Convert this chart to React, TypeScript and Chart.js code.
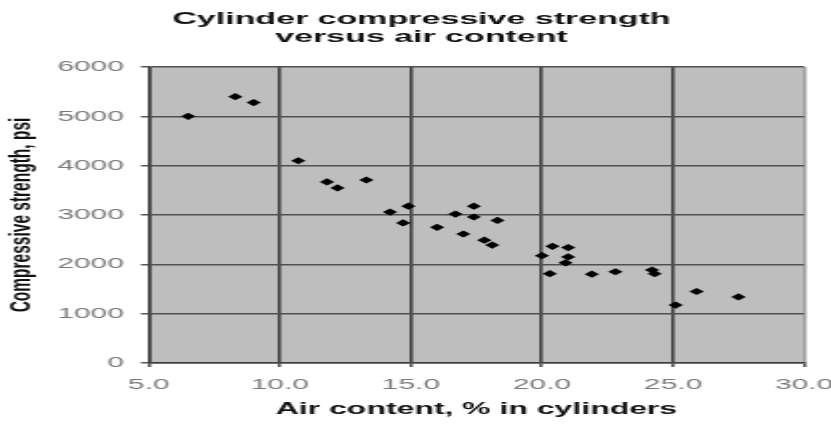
import React, { useEffect, useRef } from 'react';
import { Chart, registerables } from 'chart.js';

Chart.register(...registerables);

const chartTitle = ['Cylinder compressive strength', 'versus air content'];
const xAxisTitle = 'Air content, % in cylinders';
const yAxisTitle = 'Compressive strength, psi';

const airContent = [6.5, 8.3, 9.0, 10.7, 11.8, 12.2, 13.3, 14.2, 14.9, 14.7, 16.0, 16.7, 17.4, 17.4, 17.0, 18.3, 17.8, 18.1, 20.0, 20.4, 21.0, 21.0, 20.9, 20.3, 21.9, 22.8, 24.2, 24.3, 25.1, 25.9, 27.5];
const strength = [5000, 5400, 5280, 4100, 3670, 3550, 3710, 3060, 3180, 2840, 2750, 3020, 3180, 2960, 2615, 2890, 2490, 2390, 2175, 2365, 2340, 2150, 2030, 1810, 1800, 1850, 1885, 1810, 1175, 1450, 1340];

const xTicks = [5, 10, 15, 20, 25, 30];
const yTicks = [0, 1000, 2000, 3000, 4000, 5000, 6000];

const FONT = "'Liberation Sans', Arial, sans-serif";

const plotBackground = {
  id: 'plotBackground',
  beforeDraw(chart: any) {
    const { ctx, chartArea } = chart;
    if (!chartArea) return;
    ctx.save();
    ctx.fillStyle = '#bebebe';
    ctx.fillRect(chartArea.left, chartArea.top, chartArea.right - chartArea.left, chartArea.bottom - chartArea.top);
    ctx.restore();
  },
};

export default function App() {
  const ref = useRef<HTMLCanvasElement | null>(null);

  useEffect(() => {
    if (!ref.current) return;
    const data = airContent.map((x, i) => ({ x, y: strength[i] }));
    const chart = new Chart(ref.current, {
      type: 'scatter',
      data: {
        datasets: [
          {
            data,
            pointStyle: 'rectRot',
            pointRadius: 3.6,
            pointHoverRadius: 3.6,
            backgroundColor: '#000',
            borderColor: '#000',
            borderWidth: 0,
          },
        ],
      },
      options: {
        responsive: false,
        animation: false,
        devicePixelRatio: 1,
        layout: { padding: { left: 6, right: 0, top: 0, bottom: 0 } },
        plugins: {
          legend: { display: false },
          tooltip: { enabled: false },
          title: {
            display: true,
            text: chartTitle,
            color: '#111',
            font: { family: FONT, size: 17, weight: 'bold', lineHeight: 1.06 },
            padding: { top: 10, bottom: 21 },
          },
        },
        scales: {
          x: {
            type: 'linear',
            min: 5,
            max: 30,
            afterBuildTicks: (s: any) => {
              s.ticks = xTicks.map((v) => ({ value: v }));
            },
            afterFit: (s: any) => {
              s.height = 61;
              s.paddingLeft = 0;
              s.paddingRight = 0;
            },
            grid: {
              color: (c: any) => (c.tick && c.tick.value === 30 ? '#9a9a9a' : '#404040'),
              lineWidth: 1.6,
              drawTicks: true,
              tickLength: 4,
              tickColor: '#555',
            },
            border: { display: true, color: '#404040', width: 1.6 },
            ticks: {
              color: '#7a7a7a',
              font: { family: FONT, size: 15 },
              padding: 9,
              maxRotation: 0,
              autoSkip: false,
              callback: (v: any) => Number(v).toFixed(1),
            },
            title: {
              display: true,
              text: xAxisTitle,
              color: '#111',
              font: { family: FONT, size: 16, weight: 'bold' },
              padding: { top: 0, bottom: 4.4 },
            },
          },
          y: {
            type: 'linear',
            position: 'left',
            min: 0,
            max: 6000,
            afterBuildTicks: (s: any) => {
              s.ticks = yTicks.map((v) => ({ value: v }));
            },
            afterFit: (s: any) => {
              s.width = 68.5;
              s.paddingTop = 0;
              s.paddingBottom = 0;
            },
            grid: {
              color: '#505050',
              lineWidth: 1.5,
              drawTicks: true,
              tickLength: 4,
              tickColor: '#555',
            },
            border: { display: true, color: '#404040', width: 1.6 },
            ticks: {
              color: '#7a7a7a',
              font: { family: FONT, size: 15 },
              padding: 8.5,
              autoSkip: false,
              callback: (v: any) => String(v),
            },
            title: {
              display: true,
              text: yAxisTitle,
              color: '#111',
              font: { family: FONT, size: 15.5, weight: 'bold', lineHeight: 1 },
              padding: { top: -3, bottom: 0 },
            },
          },
          yRight: {
            type: 'linear',
            position: 'right',
            min: 0,
            max: 6000,
            display: true,
            grid: { display: false, drawTicks: false },
            border: { display: false },
            ticks: { display: false },
            title: { display: false },
            afterFit: (s: any) => {
              s.width = 13.5;
              s.paddingTop = 0;
              s.paddingBottom = 0;
            },
          },
        },
      },
      plugins: [plotBackground],
    } as any);
    return () => chart.destroy();
  }, []);

  return (
    <div style={{ position: 'absolute', left: 0, top: 0, width: 831, height: 424, background: '#fff' }}>
      <canvas
        ref={ref}
        width={416}
        height={424}
        style={{ width: '831px', height: '424px', display: 'block' }}
      />
    </div>
  );
}
